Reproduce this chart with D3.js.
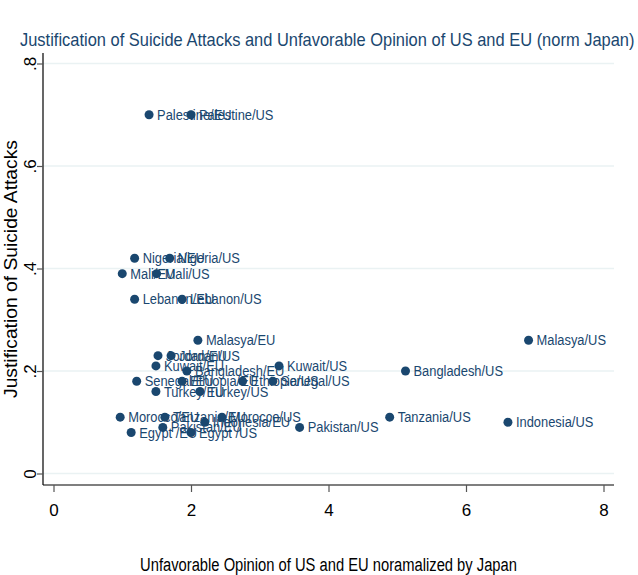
<!DOCTYPE html>
<html><head><meta charset="utf-8">
<script src="https://cdn.jsdelivr.net/npm/d3@7"></script>
<style>body{margin:0;background:#fff}svg{display:block}</style>
</head><body>
<script>
const labels = ["Palestine/EU","Palestine/US","Nigeria/EU","Nigeria/US","Mali/EU","Mali/US","Lebanon/EU","Lebanon/US",
"Malasya/EU","Malasya/US","Jordan/EU","Jordan/US","Kuwait/EU","Kuwait/US","Bangladesh/EU","Bangladesh/US",
"Senegal/EU","Senegal/US","Ethiopia/EU","Ethiopia/US","Turkey/EU","Turkey/US","Morocco/EU","Morocco/US",
"Tanzania/EU","Tanzania/US","Indonesia/EU","Indonesia/US","Pakistan/EU","Pakistan/US","Egypt /EU","Egypt /US"];
const xValues = [1.39,2.0,1.18,1.69,1.0,1.5,1.18,1.87,
2.1,6.91,1.52,1.71,1.49,3.28,1.94,5.12,
1.21,3.19,1.87,2.75,1.49,2.13,0.97,2.45,
1.62,4.89,2.2,6.61,1.59,3.58,1.13,2.0];
const yValues = [0.70,0.70,0.42,0.42,0.39,0.39,0.34,0.34,
0.26,0.26,0.23,0.23,0.21,0.21,0.20,0.20,
0.18,0.18,0.18,0.18,0.16,0.16,0.11,0.11,
0.11,0.11,0.10,0.10,0.09,0.09,0.08,0.08];
const xTicks = [0,2,4,6,8];
const yTicks = [0,0.2,0.4,0.6,0.8];
const yTickLabels = ["0",".2",".4",".6",".8"];
const title = "Justification of Suicide Attacks and Unfavorable Opinion of US and EU (norm Japan)";
const xTitle = "Unfavorable Opinion of US and EU noramalized by Japan";
const yTitle = "Justification of Suicide Attacks";

(function(){
const W = 638, H = 575;
const font = "'Liberation Sans',Arial,sans-serif";
const navy = "#1a476f";
const svg = d3.select("body").append("svg").attr("width", W).attr("height", H);

function squeeze(sel, f) {
  sel.each(function(){
    const w = this.getComputedTextLength();
    d3.select(this).attr("textLength", w * f).attr("lengthAdjust", "spacingAndGlyphs");
  });
}
// place a text at (tx,ty) with rotation, horizontally scaled so its length is w
function placeScaled(sel, tx, ty, rot, w) {
  sel.each(function(){
    const n = this.getComputedTextLength();
    d3.select(this).attr("x", 0).attr("y", 0)
      .attr("transform", `translate(${tx},${ty}) rotate(${rot}) scale(${w / n},1)`);
  });
}

const x = d3.scaleLinear().domain([0, 8]).range([53.5, 603.5]);
const y = d3.scaleLinear().domain([0, 0.8]).range([473.5, 63.5]);
const pL = 43, pR = 614, pT = 53, pB = 485;

svg.append("g").selectAll("line").data(yTicks).join("line")
  .attr("x1", pL).attr("x2", pR).attr("y1", d => y(d)).attr("y2", d => y(d))
  .attr("stroke", "#eaf2f3").attr("stroke-width", 1.5);

const yAxis = svg.append("g").attr("transform", `translate(${pL},0)`)
  .call(d3.axisLeft(y).tickValues(yTicks).tickSize(6).tickFormat((d,i) => yTickLabels[i]));
yAxis.select(".domain").attr("d", `M0,${pT}V${pB}`).attr("stroke", "#000").attr("stroke-width", 1.2);
yAxis.selectAll(".tick line").attr("stroke", "#555").attr("stroke-width", 1.2);
yAxis.selectAll(".tick text").attr("font-family", font).attr("font-size", 17).attr("fill", "#000")
  .attr("x", 0).attr("dy", 0).attr("text-anchor", "middle")
  .attr("transform", "translate(-7,0) rotate(-90)");

const xAxis = svg.append("g").attr("transform", `translate(0,${pB})`)
  .call(d3.axisBottom(x).tickValues(xTicks).tickSize(7).tickFormat(d3.format("d")));
xAxis.select(".domain").attr("d", `M${pL},0H${pR}`).attr("stroke", "#000").attr("stroke-width", 1.2);
xAxis.selectAll(".tick line").attr("stroke", "#555").attr("stroke-width", 1.2);
xAxis.selectAll(".tick text").attr("font-family", font).attr("font-size", 17).attr("fill", "#000")
  .attr("y", 31).attr("dy", 0);

const data = labels.map((l, i) => ({l, x: xValues[i], y: yValues[i]}));
const g = svg.append("g");
g.selectAll("circle").data(data).join("circle")
  .attr("cx", d => x(d.x)).attr("cy", d => y(d.y)).attr("r", 4.5).attr("fill", navy);
const pt = g.selectAll("text").data(data).join("text")
  .attr("x", d => x(d.x) + 8).attr("y", d => y(d.y)).attr("dy", "0.36em")
  .attr("font-family", font).attr("font-size", 14).attr("fill", navy).text(d => d.l);
squeeze(pt, 0.92);

svg.append("text").attr("font-family", font).attr("font-size", 18)
  .attr("fill", navy).text(title).call(placeScaled, 20, 46, 0, 615);
svg.append("text").attr("text-anchor", "middle").attr("font-family", font)
  .attr("font-size", 19).attr("fill", "#000").text(xTitle).call(placeScaled, 328.5, 571, 0, 377);
svg.append("text").attr("text-anchor", "middle")
  .attr("font-family", font).attr("font-size", 19).attr("fill", "#000").text(yTitle)
  .call(placeScaled, 17, 269, -90, 258);
})();
</script>
</body></html>
